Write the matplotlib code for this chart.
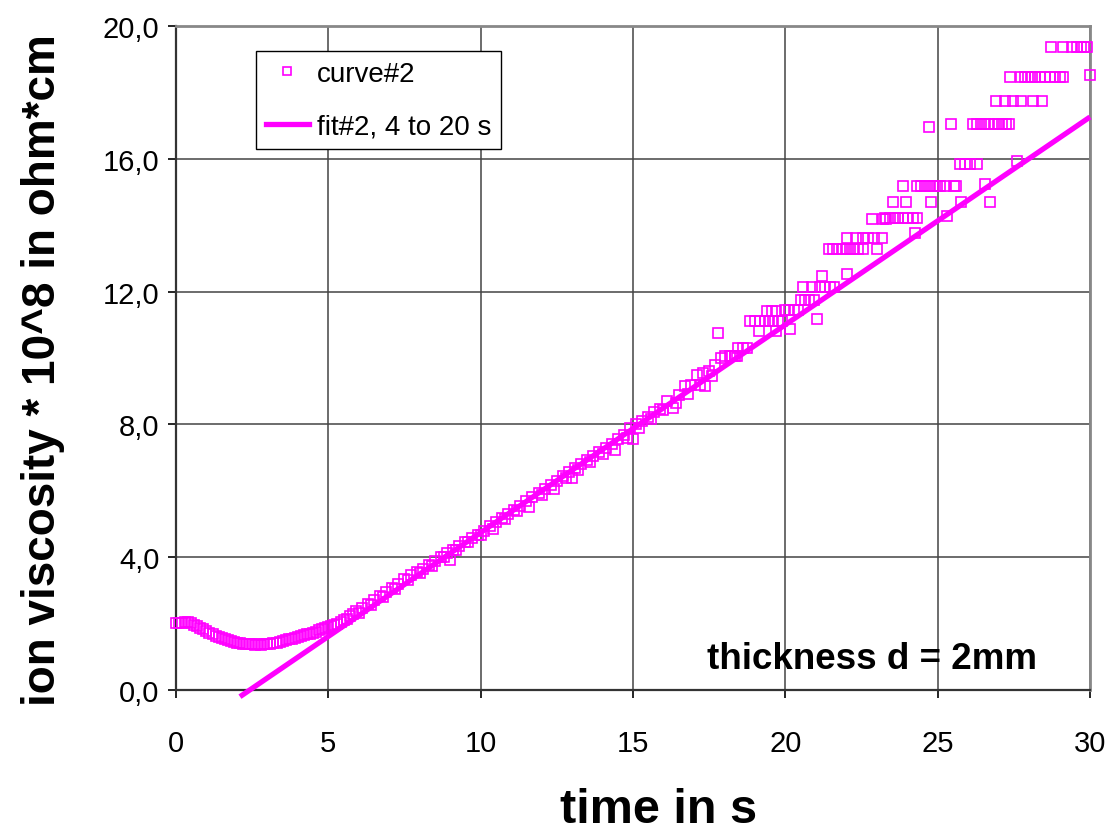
import matplotlib
matplotlib.use("Agg")
import matplotlib.pyplot as plt
from matplotlib.lines import Line2D

plt.rcParams['font.family'] = ['Liberation Sans', 'DejaVu Sans']

MAGENTA = '#FF00FF'

# curve#2 : early part (0 .. 5.8 s)
t_early = [0.0, 0.1, 0.2, 0.3, 0.4, 0.5, 0.6, 0.7, 0.8, 0.9,
           1.0, 1.1, 1.2, 1.3, 1.4, 1.5, 1.6, 1.7, 1.8, 1.9,
           2.0, 2.1, 2.2, 2.3, 2.4, 2.5, 2.6, 2.7, 2.8, 2.9,
           3.0, 3.1, 3.2, 3.3, 3.4, 3.5, 3.6, 3.7, 3.8, 3.9,
           4.0, 4.1, 4.2, 4.3, 4.4, 4.5, 4.6, 4.7, 4.8, 4.9,
           5.0, 5.1, 5.2, 5.3, 5.4, 5.5, 5.6, 5.7, 5.8]
v_early = [2.02, 2.02, 2.03, 2.05, 2.06, 2.02, 1.97, 1.93, 1.87, 1.83,
           1.78, 1.73, 1.68, 1.64, 1.60, 1.56, 1.53, 1.50, 1.47, 1.44,
           1.42, 1.41, 1.40, 1.39, 1.38, 1.38, 1.37, 1.38, 1.37, 1.38,
           1.39, 1.39, 1.41, 1.42, 1.45, 1.47, 1.50, 1.53, 1.55, 1.58,
           1.60, 1.63, 1.65, 1.68, 1.70, 1.73, 1.76, 1.80, 1.83, 1.87,
           1.90, 1.94, 1.97, 2.00, 2.05, 2.10, 2.15, 2.22, 2.28]

# curve#2 : middle part (5.9 .. 17.9 s)
t_mid = [5.9, 6.0, 6.1, 6.3, 6.4, 6.5, 6.7, 6.8, 6.9, 7.1, 7.2, 7.3, 7.5, 7.6, 7.7, 7.9,
         8.0, 8.1, 8.3, 8.4, 8.5, 8.7, 8.8, 8.9, 9.0, 9.1, 9.2, 9.3, 9.5, 9.6, 9.7, 9.9,
         10.0, 10.1, 10.3, 10.4, 10.5, 10.7, 10.8, 10.9, 11.1, 11.2, 11.3, 11.5, 11.6, 11.7, 11.9,
         12.0, 12.1, 12.3, 12.4, 12.5, 12.7, 12.8, 12.9, 13.0, 13.1, 13.2, 13.3, 13.5, 13.6, 13.7, 13.9,
         14.0, 14.1, 14.3, 14.4, 14.5, 14.7, 14.8, 14.9, 15.0, 15.1, 15.2, 15.3, 15.5, 15.6, 15.7, 15.9,
         16.0, 16.1, 16.3, 16.4, 16.5, 16.7, 16.8, 16.9, 17.1, 17.2, 17.3, 17.36, 17.5, 17.6, 17.7,
         17.8, 17.9]
v_mid = [2.37, 2.32, 2.48, 2.60, 2.55, 2.71, 2.84, 2.80, 2.96, 3.08, 3.05, 3.20, 3.33, 3.30, 3.45, 3.55,
         3.52, 3.65, 3.78, 3.75, 3.90, 4.00, 4.00, 4.12, 3.92, 4.23, 4.22, 4.35, 4.46, 4.45, 4.58, 4.68,
         4.68, 4.80, 4.93, 4.85, 5.05, 5.17, 5.15, 5.30, 5.42, 5.40, 5.53, 5.68, 5.52, 5.80, 5.93,
         5.88, 6.05, 6.17, 6.05, 6.30, 6.45, 6.38, 6.56, 6.40, 6.68, 6.62, 6.81, 6.93, 6.88, 7.05, 7.18,
         7.12, 7.30, 7.42, 7.22, 7.55, 7.68, 7.60, 7.88, 7.56, 8.00, 7.88, 8.10, 8.22, 8.15, 8.36, 8.45,
         8.42, 8.70, 8.50, 8.66, 8.88, 9.15, 8.92, 9.20, 9.50, 9.20, 9.55, 9.17, 9.62, 9.45, 9.78,
         10.75, 10.00]

# curve#2 : late part (18 .. 30 s), quantised steps
t_late = [18.02, 18.18, 18.24, 18.35, 18.40, 18.46, 18.60, 18.73, 18.84, 19.00,
          19.14, 19.17, 19.33, 19.39, 19.47, 19.55, 19.60, 19.69, 19.71, 19.77,
          19.88, 19.99, 20.13, 20.15, 20.28, 20.42, 20.51, 20.59, 20.64, 20.78,
          20.86, 20.95, 21.03, 21.14, 21.20, 21.30, 21.43, 21.46, 21.57, 21.60,
          21.70, 21.85, 21.99, 22.01, 22.03, 22.12, 22.25, 22.32, 22.39, 22.54,
          22.56, 22.72, 22.83, 22.91, 23.00, 23.16, 23.21, 23.27, 23.32, 23.43,
          23.54, 23.60, 23.71, 23.85, 23.87, 23.96, 24.03, 24.20, 24.25, 24.31,
          24.33, 24.44, 24.58, 24.70, 24.72, 24.78, 24.85, 24.98, 25.07, 25.24,
          25.29, 25.43, 25.53, 25.60, 25.73, 25.76, 25.90, 26.06, 26.17, 26.28,
          26.30, 26.43, 26.55, 26.57, 26.70, 26.71, 26.84, 26.93, 26.97, 27.10,
          27.21, 27.23, 27.35, 27.37, 27.46, 27.59, 27.73, 27.75, 27.86, 27.97,
          28.08, 28.14, 28.19, 28.36, 28.43, 28.52, 28.68, 28.72, 28.85, 29.01,
          29.11, 29.13, 29.40, 29.56, 29.70, 29.80, 29.89, 30.00]
v_late = [10.07, 10.07, 10.05, 10.07, 10.05, 10.30, 10.30, 10.30, 11.12, 11.12,
          10.82, 11.12, 11.12, 11.42, 11.12, 11.42, 11.12, 11.42, 10.82, 11.12,
          11.12, 11.45, 11.45, 10.87, 11.45, 11.45, 11.76, 12.13, 11.76, 11.76,
          12.13, 11.76, 11.17, 12.13, 12.48, 12.13, 13.28, 12.13, 13.28, 12.13,
          13.28, 13.28, 13.28, 12.53, 13.63, 13.28, 13.28, 13.63, 13.28, 13.28,
          13.63, 13.63, 14.19, 13.63, 13.28, 13.63, 14.19, 14.22, 14.19, 14.22,
          14.69, 14.22, 14.22, 15.19, 14.22, 14.69, 14.22, 14.22, 13.78, 15.19,
          14.22, 15.19, 15.19, 16.95, 15.19, 14.70, 15.19, 15.19, 15.19, 15.19,
          14.29, 17.05, 15.19, 15.19, 15.84, 14.70, 15.84, 15.84, 17.05, 15.84,
          17.05, 17.05, 15.24, 17.05, 17.05, 14.69, 17.05, 17.73, 17.05, 17.05,
          17.73, 17.05, 17.05, 18.45, 17.73, 15.92, 17.75, 18.45, 18.45, 18.45,
          18.45, 17.73, 18.45, 18.45, 17.73, 18.45, 18.45, 19.36, 18.45, 18.45,
          19.36, 18.45, 19.36, 19.36, 19.38, 19.36, 19.36, 18.53]

# linear fit, 4 to 20 s
fit_t = [2.1, 30.0]
fit_v = [-0.2, 17.26]

x_ticks = [0, 5, 10, 15, 20, 25, 30]
y_ticks = [0, 4, 8, 12, 16, 20]
y_tick_labels = ['0,0', '4,0', '8,0', '12,0', '16,0', '20,0']

fig = plt.figure(figsize=(11.11, 8.37), dpi=100)
ax = fig.add_axes([0.1584, 0.1744, 0.8227, 0.7933])

t_all = t_early + t_mid + t_late
v_all = v_early + v_mid + v_late
ax.plot(t_all, v_all, linestyle='none', marker='s', markersize=7,
        markerfacecolor='none', markeredgecolor=MAGENTA, markeredgewidth=1.2,
        clip_on=False, zorder=3)
ax.plot(fit_t, fit_v, color=MAGENTA, linewidth=3.8, solid_capstyle='butt',
        clip_on=False, zorder=4)

ax.set_xlim(0, 30)
ax.set_ylim(0, 20)
ax.set_xticks(x_ticks)
ax.set_yticks(y_ticks)
ax.set_yticklabels(y_tick_labels)
ax.tick_params(direction='out', length=6, width=1.2, labelsize=21)
ax.tick_params(axis='x', pad=22)
ax.tick_params(axis='y', pad=6)
ax.grid(True, color='#444444', linewidth=1.1)
ax.set_axisbelow(True)

for s in ['top', 'right']:
    ax.spines[s].set_color('#888888')
    ax.spines[s].set_linewidth(2)
for s in ['left', 'bottom']:
    ax.spines[s].set_color('#333333')
    ax.spines[s].set_linewidth(1.6)

xl = ax.set_xlabel('time in s', fontsize=35, fontweight='bold')
xl.set_verticalalignment('baseline')
ax.xaxis.set_label_coords(0.528, -0.199)
yl = ax.set_ylabel('ion viscosity * 10^8 in ohm*cm', fontsize=33, fontweight='bold')
yl.set_verticalalignment('center')
ax.yaxis.set_label_coords(-0.145, 0.483)

ax.text(0.942, 0.047, 'thickness d = 2mm', transform=ax.transAxes,
        fontsize=26.5, fontweight='bold', ha='right', va='center')

handles = [
    Line2D([], [], linestyle='none', marker='s', markersize=6, markerfacecolor='none',
           markeredgecolor=MAGENTA, markeredgewidth=1.2),
    Line2D([], [], color=MAGENTA, linewidth=3.8),
]
leg = ax.legend(handles, ['curve#2', 'fit#2, 4 to 20 s'], loc='upper left',
                bbox_to_anchor=(0.0875, 0.962), borderaxespad=0, fontsize=20,
                frameon=True, fancybox=False, edgecolor='black', framealpha=1,
                handlelength=1.55, handletextpad=0.3, borderpad=0.35,
                labelspacing=0.95)
leg.get_frame().set_linewidth(1.0)

fig.savefig('out.png', dpi=100)
